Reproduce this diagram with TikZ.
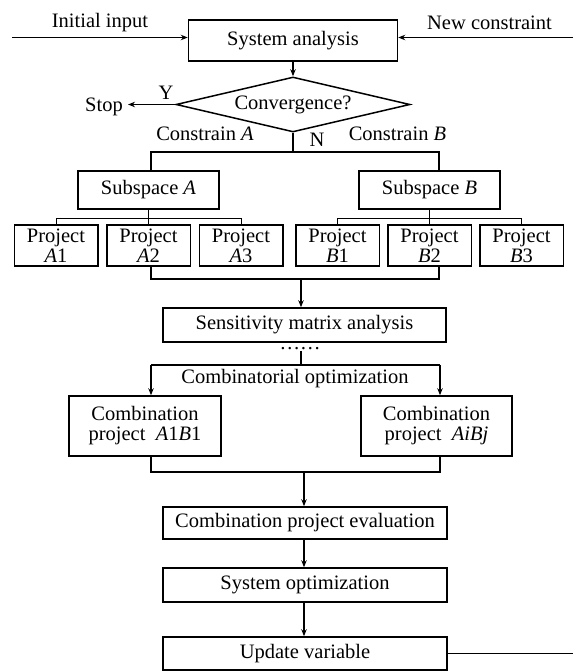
\documentclass[tikz,border=0pt]{standalone}
\usepackage{fontspec}
\setmainfont{Liberation Serif}
\usetikzlibrary{arrows.meta,shapes.geometric,calc}
\begin{document}
\begin{tikzpicture}[x=1pt,y=-1pt,
  every node/.style={font=\fontsize{20.5}{20}\selectfont},
  box/.style={draw, line width=1.5pt, inner sep=0pt, align=center},
  ln/.style={line width=1.5pt},
  tln/.style={line width=1pt},
  arr/.style={ln, -{Stealth[length=7pt,width=5.5pt]}},
  lbl/.style={anchor=base, inner sep=0pt},
  proj/.style={box, minimum width=83.5pt, minimum height=41pt},
  wide/.style={box, minimum width=284pt}]
\fill[white] (0,0) rectangle (573,671);
\useasboundingbox (0,0) rectangle (573,671);

% top
\node[box, minimum width=209pt, minimum height=41pt] (sys) at (293,40.5) {System analysis};
\node[draw, diamond, line width=1.5pt, inner sep=0pt, aspect=4.25,
      minimum width=234pt, minimum height=55pt] (conv) at (293,104.5) {Convergence?};
\coordinate (inA) at (12,37.5);
\coordinate (ncA) at (573,37.5);
\draw[arr] (inA) -- (inA -| sys.west);
\draw[arr] (ncA) -- (ncA -| sys.east);
\node[lbl] (inlbl) at (100,28) {Initial input};
\node[lbl] (nclbl) at (489.5,30) {New constraint};
\draw[arr] (sys.south) -- (conv.north);

% stop
\node[lbl] (stop) at (104,112) {Stop};
\draw[arr] (conv.west) -- ($(conv.west -| stop.east)+(5,0)$);
\node[lbl] (ylbl) at (166,100) {Y};
\node[lbl] (nlbl) at (317,147) {N};
\node[lbl] (cA) at (205,141) {Constrain \textit{A}};
\node[lbl] (cB) at (397.5,141) {Constrain \textit{B}};

% subspaces
\node[box, minimum width=141pt, minimum height=38pt] (subA) at (148.5,190) {Subspace \textit{A}};
\node[box, minimum width=141pt, minimum height=38pt] (subB) at (429.5,190) {Subspace \textit{B}};
\coordinate (s0) at (293,152);
\coordinate (sL) at (151,152);
\coordinate (sR) at (439,152);
\draw[ln] (conv.south) -- (s0);
\draw[ln] (sL |- subA.north) -- (sL) -- (sR) -- (sR |- subB.north);

% projects
\node[proj] (pA1) at (56,245.5) {Project\\\textit{A}1};
\node[proj] (pA2) at (148.5,245.5) {Project\\\textit{A}2};
\node[proj] (pA3) at (241,245.5) {Project\\\textit{A}3};
\node[proj] (pB1) at (337.5,245.5) {Project\\\textit{B}1};
\node[proj] (pB2) at (429.5,245.5) {Project\\\textit{B}2};
\node[proj] (pB3) at (521.5,245.5) {Project\\\textit{B}3};
\coordinate (tA) at (148.5,218);
\coordinate (tB) at (429.5,218);
\draw[tln] (subA.south) -- (tA) -- (pA2.north);
\draw[tln] (pA1.north) -- (pA1.north |- tA) -- (pA3.north |- tA) -- (pA3.north);
\draw[tln] (subB.south) -- (tB) -- (pB2.north);
\draw[tln] (pB1.north) -- (pB1.north |- tB) -- (pB3.north |- tB) -- (pB3.north);

% merge to sensitivity
\node[box, minimum width=283pt, minimum height=34pt] (sens) at (304.5,325) {Sensitivity matrix analysis};
\coordinate (mL) at (151,279);
\coordinate (mR) at (439,279);
\coordinate (m0) at (301,279);
\draw[ln] (pA2.south -| mL) -- (mL) -- (mR) -- (pB2.south -| mR);
\draw[arr] (m0) -- (m0 |- sens.north);
\node[lbl] (dots) at (300,349) {……};

% combinatorial
\node[box, minimum width=152pt, minimum height=60pt] (combL) at (145,426) {Combination\\project\ \ \textit{A}1\textit{B}1};
\node[box, minimum width=151pt, minimum height=60pt] (combR) at (436.5,426) {Combination\\project\ \ \textit{AiBj}};
\coordinate (c0) at (301,351);
\coordinate (cT) at (301,365);
\coordinate (cL) at (151,365);
\coordinate (cR) at (440,365);
\draw[ln] (c0) -- (cT);
\draw[ln] (cL) -- (cR);
\draw[arr] (cL) -- (cL |- combL.north);
\draw[arr] (cR) -- (cR |- combR.north);
\node[lbl] (coptlbl) at (295,383) {Combinatorial optimization};

% bottom chain
\node[wide, minimum height=32pt] (eval) at (305,523) {Combination project evaluation};
\node[wide, minimum height=34pt] (sysopt) at (305,585) {System optimization};
\node[wide, minimum height=33pt] (upd) at (305,653.5) {Update variable};
\coordinate (bL) at (151,472);
\coordinate (bR) at (440,472);
\coordinate (b0) at (304,472);
\draw[ln] (combL.south -| bL) -- (bL) -- (bR) -- (combR.south -| bR);
\draw[arr] (b0) -- (b0 |- eval.north);
\draw[arr] (eval.south -| b0) -- (sysopt.north -| b0);
\draw[arr] (sysopt.south -| b0) -- (upd.north -| b0);
\coordinate (uR) at (573,653.5);
\draw[ln] (upd.east) -- (uR);
\end{tikzpicture}
\end{document}
